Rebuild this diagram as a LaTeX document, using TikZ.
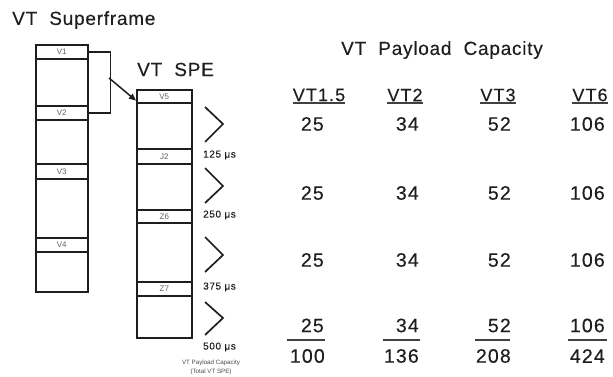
\documentclass[tikz,border=0pt]{standalone}
\usepackage{fontspec}
\setmainfont{Liberation Sans}
\newfontfamily\widefont[LetterSpace=6,FakeBold=0.25]{Liberation Sans}
\newfontfamily\midfont[LetterSpace=4,FakeBold=0.25]{Liberation Sans}
\usetikzlibrary{arrows.meta}
\definecolor{ink}{HTML}{1E1E1E}
\begin{document}
\begin{tikzpicture}[x=1pt,y=-1pt,
  col/.style={draw=ink,line width=1.6pt,inner sep=0pt,anchor=north west},
  slot/.style={draw=ink,line width=1.6pt,inner sep=0pt,anchor=north west,minimum height=14pt,text=ink!70,font=\fontsize{8}{8}\selectfont},
  chev/.style={draw=ink,line width=1.7pt},
  ttl/.style={text=ink,font=\midfont\fontsize{19}{20}\selectfont,inner sep=0pt},
  hdr/.style={text=ink,font=\widefont\fontsize{18}{20}\selectfont,inner sep=0pt},
  num/.style={text=ink,font=\widefont\fontsize{19.5}{20}\selectfont,inner sep=0pt,anchor=east},
  tlab/.style={text=ink,font=\widefont\fontsize{10}{11}\selectfont,inner sep=0pt,anchor=west},
  captext/.style={text=ink!80,font=\fontsize{6.2}{9}\selectfont,inner sep=0pt,align=center},
  hrule/.style={draw=ink!85,line width=1.5pt}
]
\useasboundingbox (0,0) rectangle (613,377);

% titles
\node[ttl,anchor=west] (tsf) at (12,20) {VT\ \ Superframe};
\node[ttl,anchor=west] (tspe) at (137,69.5) {VT\ \ SPE};
\node[ttl] (tcap) at (442,50) {VT\ \ Payload\ \ Capacity};

% superframe column
\node[col,minimum width=52pt,minimum height=247pt] (sf) at (35,44) {};
\node[slot,minimum width=52pt] (v1) at (35,44) {V1};
\node[slot,minimum width=52pt] (v2) at (35,105) {V2};
\node[slot,minimum width=52pt,minimum height=15pt] (v3) at (35,163) {V3};
\node[slot,minimum width=52pt] (v4) at (35,237) {V4};

% SPE column
\node[col,minimum width=55pt,minimum height=248pt] (spe) at (136,89) {};
\node[slot,minimum width=55pt,minimum height=13pt] (v5) at (136,89) {V5};
\node[slot,minimum width=55pt,minimum height=15pt] (j2) at (136,148) {J2};
\node[slot,minimum width=55pt,minimum height=13pt] (z6) at (136,209) {Z6};
\node[slot,minimum width=55pt,minimum height=14pt] (z7) at (136,281) {Z7};

% bracket and arrow
\draw[draw=ink,line width=1.6pt] (v1.east) -- ++(22,0) coordinate (b1) |- (v2.east);
\coordinate (brk) at (109,78);
\draw[draw=ink,line width=1.5pt,-{Triangle[length=7pt,width=6pt]}] (brk) -- ([yshift=3pt]v5.south west);

% chevrons
\draw[chev] (205,107) -- (223,124) -- (205,142);
\draw[chev] (205,168) -- (223,186) -- (205,203);
\draw[chev] (205,237) -- (223,255) -- (205,272);
\draw[chev] (205,302) -- (223,318) -- (205,335);

% time labels
\node[tlab] (t1) at (203,155) {125 μs};
\node[tlab] (t2) at (203,215) {250 μs};
\node[tlab] (t3) at (203,287) {375 μs};
\node[tlab] (t4) at (203,347) {500 μs};
\node[captext] (cp) at (211,367) {VT Payload Capacity\\(Total VT SPE)};

% table headers
\node[hdr] (h1) at (319,95) {VT1.5};
\node[hdr] (h2) at (405,95) {VT2};
\node[hdr] (h3) at (498,95) {VT3};
\node[hdr] (h4) at (590,95) {VT6};
\draw[hrule] ([yshift=-1.8pt]h1.base west) -- ([yshift=-1.8pt]h1.base east);
\draw[hrule] ([yshift=-1.8pt]h2.base west) -- ([yshift=-1.8pt]h2.base east);
\draw[hrule] ([yshift=-1.8pt]h3.base west) -- ([yshift=-1.8pt]h3.base east);
\draw[hrule] ([yshift=-1.8pt]h4.base west) -- ([yshift=-1.8pt]h4.base east);

% rows
\foreach \r/\y in {1/124,2/193,3/260,4/325.5}{
  \node[num] (a\r) at (324,\y) {25};
  \node[num] (b\r) at (419,\y) {34};
  \node[num] (c\r) at (511,\y) {52};
  \node[num] (d\r) at (605,\y) {106};
}
\coordinate (l1a) at (287,340); \coordinate (l1b) at (325,340);
\coordinate (l2a) at (383,340); \coordinate (l2b) at (420,340);
\coordinate (l3a) at (475,340); \coordinate (l3b) at (510,340);
\coordinate (l4a) at (568,340); \coordinate (l4b) at (607,340);
\draw[hrule] (l1a) -- (l1b);
\draw[hrule] (l2a) -- (l2b);
\draw[hrule] (l3a) -- (l3b);
\draw[hrule] (l4a) -- (l4b);
\node[num] (s1) at (325,356) {100};
\node[num] (s2) at (419,356) {136};
\node[num] (s3) at (511,356) {208};
\node[num] (s4) at (605,356) {424};
\end{tikzpicture}
\end{document}
